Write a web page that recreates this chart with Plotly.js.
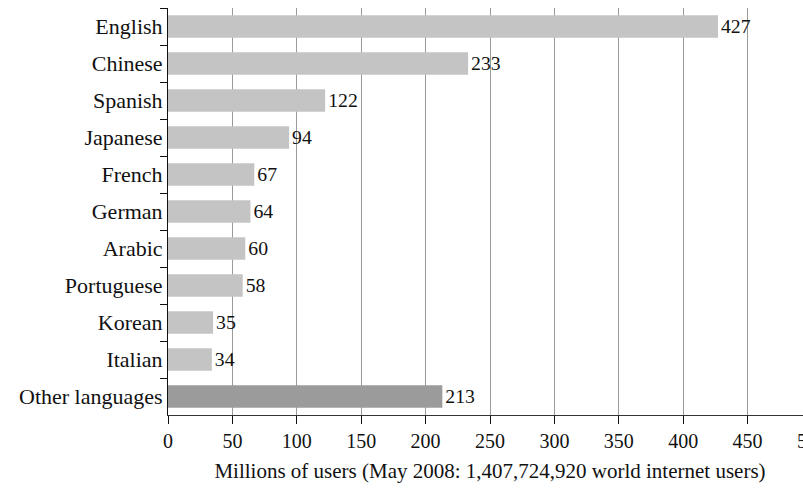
<!DOCTYPE html>
<html>
<head>
<meta charset="utf-8">
<script src="https://cdn.plot.ly/plotly-3.0.1.min.js"></script>
<style>
html,body{margin:0;padding:0;overflow:hidden;background:#fff;}
#chart{width:812px;height:488px;}
</style>
</head>
<body>
<div id="chart"></div>
<script>
const languages = ["English","Chinese","Spanish","Japanese","French","German","Arabic","Portuguese","Korean","Italian","Other languages"];
const users = [427,233,122,94,67,64,60,58,35,34,213];
const barColors = languages.map(l => l === "Other languages" ? "#9b9b9b" : "#c4c4c4");
const xTicks = [0,50,100,150,200,250,300,350,400,450,500];
const xTitle = "Millions of users (May 2008: 1,407,724,920 world internet users)";

const FONT = "'Liberation Serif', 'Times New Roman', serif";

Plotly.newPlot("chart", [{
  type: "bar",
  orientation: "h",
  y: languages,
  x: users,
  marker: {color: barColors, line: {width: 0}},
  text: users.map(String),
  textposition: "outside",
  cliponaxis: false,
  textfont: {family: FONT, size: 21, color: "#111"},
  hoverinfo: "none"
}], {
  width: 812,
  height: 488,
  margin: {l: 168, r: 0, t: 7.5, b: 72.5},
  paper_bgcolor: "#fff",
  plot_bgcolor: "#fff",
  bargap: 0.39,
  showlegend: false,
  font: {family: FONT, size: 21, color: "#111"},
  xaxis: {
    range: [0, 500],
    tickvals: xTicks,
    ticktext: xTicks.map(String),
    ticklabeloverflow: "allow",
    showgrid: true,
    gridcolor: "#9a9a9a",
    gridwidth: 1,
    zeroline: false,
    showline: true,
    linecolor: "#333",
    linewidth: 1,
    ticks: "outside",
    ticklen: 8,
    tickcolor: "#111",
    tickfont: {family: FONT, size: 20, color: "#111"},
    title: {text: xTitle, font: {family: FONT, size: 21, color: "#111"}, standoff: 12},
    fixedrange: true
  },
  yaxis: {
    type: "category",
    autorange: "reversed",
    showgrid: false,
    zeroline: false,
    showline: true,
    linecolor: "#111",
    linewidth: 1,
    ticks: "outside",
    tickson: "boundaries",
    ticklen: 7,
    tickcolor: "#111",
    tickfont: {family: FONT, size: 22, color: "#111"},
    fixedrange: true
  }
}, {displayModeBar: false, staticPlot: true});
</script>
</body>
</html>
